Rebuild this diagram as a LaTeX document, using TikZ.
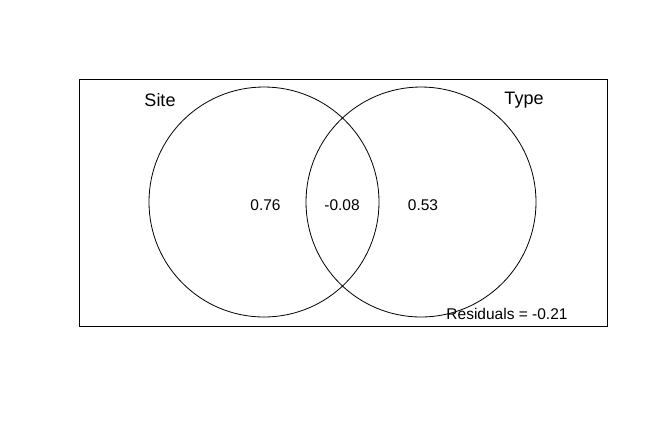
\documentclass[tikz,border=0pt]{standalone}
\usepackage{fontspec}
\setmainfont{Liberation Sans}
\begin{document}
\begin{tikzpicture}[x=1pt, y=-1pt, line width=0.8pt,
    setcircle/.style={draw, circle, minimum size=230pt, inner sep=0pt},
    val/.style={font=\fontsize{15.5}{18}\selectfont},
    setname/.style={font=\fontsize{18}{21}\selectfont}]
    \useasboundingbox (0,0) rectangle (647,424);

        % Define nodes
        \node[draw, minimum width=528pt, minimum height=247pt, inner sep=0pt] (box) at (343,202.5) {};
        \node[setcircle] (site) at (264,202) {};
        \node[setcircle] (type) at (421,202) {};
        \node[setname]   (sitelab) at (160,100) {Site};
        \node[setname]   (typelab) at (524,100) {Type};
        \node[val]       (onlysite) at (265.5,205) {0.76};
        \node[val]       (both)     at (342,205) {-0.08};
        \node[val]       (onlytype) at (423,205) {0.53};
        \node[val]       (resid)    at (507,314) {Residuals = -0.21};

\end{tikzpicture}
\end{document}
